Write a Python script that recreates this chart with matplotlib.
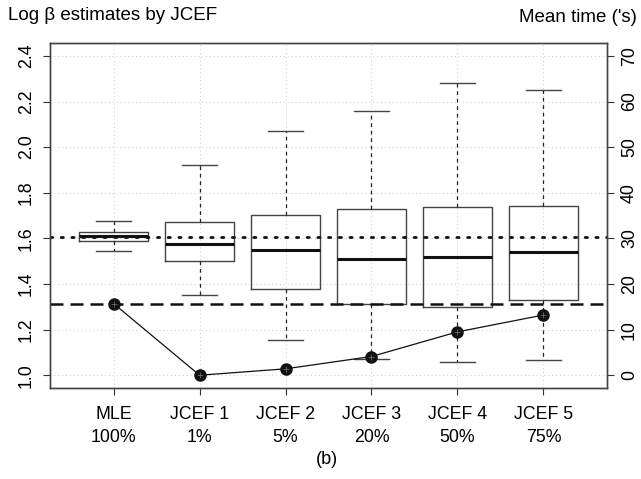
import matplotlib.pyplot as plt

plt.rcParams['font.family'] = ['Liberation Sans', 'DejaVu Sans']

# categories
labels = ['MLE\n100%', 'JCEF 1\n1%', 'JCEF 2\n5%', 'JCEF 3\n20%', 'JCEF 4\n50%', 'JCEF 5\n75%']

# box stats of log beta
whislo = [1.544, 1.351, 1.154, 1.069, 1.056, 1.067]
q1 = [1.587, 1.500, 1.376, 1.314, 1.300, 1.329]
med = [1.609, 1.576, 1.551, 1.510, 1.518, 1.541]
q3 = [1.627, 1.672, 1.704, 1.727, 1.739, 1.741]
whishi = [1.675, 1.920, 2.069, 2.159, 2.280, 2.250]

# mean time in seconds
mean_time = [15.7, 0.0, 1.4, 4.1, 9.5, 13.2]

true_beta = 1.608    # dotted line
ref_beta = 1.314     # dashed line

fig = plt.figure(figsize=(6.41, 4.79), dpi=100)
ax = fig.add_axes([0.078, 0.19, 0.869, 0.72])

pos = list(range(1, len(labels) + 1))
stats = []
for i in range(len(labels)):
    stats.append({'whislo': whislo[i], 'q1': q1[i], 'med': med[i], 'q3': q3[i], 'whishi': whishi[i]})

# grid
for p in pos:
    ax.axvline(p, color='#cccccc', lw=0.7, ls=(0, (1, 3)), zorder=0)
for yv in [1.0, 1.2, 1.4, 1.6, 1.8, 2.0, 2.2, 2.4]:
    ax.axhline(yv, color='#cccccc', lw=0.7, ls=(0, (1, 3)), zorder=0)

ax.bxp(stats, positions=pos, widths=0.8, showfliers=False, patch_artist=False,
       boxprops=dict(color='#444444', lw=1.0),
       medianprops=dict(color='#111111', lw=2.2),
       whiskerprops=dict(color='#222222', lw=0.9, ls=(0, (3, 3))),
       capprops=dict(color='#444444', lw=1.0), capwidths=0.4)

ax.axhline(true_beta, color='#111111', lw=2.0, ls=(0, (0.8, 3.05)), dash_capstyle='round', zorder=3)
ax.axhline(ref_beta, color='#111111', lw=1.8, ls=(0, (5.2, 2.8)), zorder=3)

ax.set_xlim(0.26, 6.74)
ax.set_ylim(0.944, 2.456)
ax.set_xticks(pos)
ax.set_xticklabels(labels, fontsize=12.8, linespacing=1.45)
ax.set_yticks([1.0, 1.2, 1.4, 1.6, 1.8, 2.0, 2.2, 2.4])
ax.set_yticklabels(['1.0', '1.2', '1.4', '1.6', '1.8', '2.0', '2.2', '2.4'],
                   rotation=90, va='center', fontsize=12.8)
ax.tick_params(axis='both', length=5, width=0.8, color='#333333', direction='out')
ax.tick_params(axis='y', pad=6)
ax.tick_params(axis='x', pad=8)
for s in ax.spines.values():
    s.set_color('#444444')
    s.set_linewidth(1.0)

# right axis: mean time
ax2 = ax.twinx()
ax2.set_ylim((0.944 - 1) * 50, (2.456 - 1) * 50)
ax2.plot(pos, mean_time, color='#111111', lw=0.9, marker='o', ms=8, zorder=4)
ax2.plot(pos, mean_time, ls='none', marker='+', ms=4, mew=0.5, color='#777777', zorder=5)
ax2.set_yticks([0, 10, 20, 30, 40, 50, 60, 70])
ax2.set_yticklabels(['0', '10', '20', '30', '40', '50', '60', '70'],
                    rotation=90, va='center', fontsize=12.8)
ax2.tick_params(axis='y', length=5, width=0.8, color='#333333', pad=5)
for s in ax2.spines.values():
    s.set_color('#444444')
    s.set_linewidth(1.0)

fig.text(0.012, 1 - 16 / 479, u'Log \u03b2 estimates by JCEF', fontsize=13.5, va='center', ha='left')
fig.text(0.994, 1 - 17 / 479, "Mean time ('s)", fontsize=13.5, va='center', ha='right')
fig.text(327 / 641, 1 - 459 / 479, '(b)', fontsize=13, va='center', ha='center')

fig.savefig('out.png', dpi=100)
